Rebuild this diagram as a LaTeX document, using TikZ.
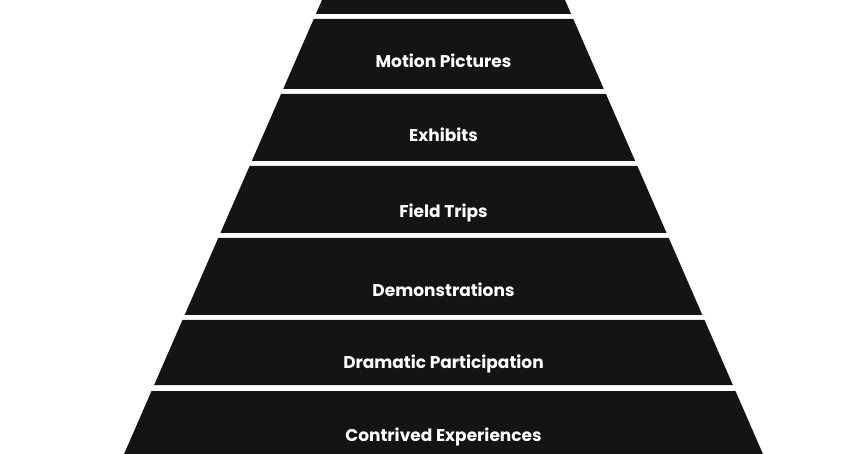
\documentclass[tikz,border=0pt]{standalone}
\usepackage{fontspec}
\setmainfont{Poppins}
\usepackage{xcolor}
\usepackage{tikz}
\usetikzlibrary{positioning}

\definecolor{bandblack}{HTML}{141414}
% edges of the pyramid: left x = 322 - 0.436 y, right x = 565 + 0.436 y
\newcommand{\band}[2]{%
  \fill[bandblack] ({322-0.436*#1},#1) -- ({565+0.436*#1},#1)
    -- ({565+0.436*#2},#2) -- ({322-0.436*#2},#2) -- cycle;}

\tikzset{
  label/.style={text=white, anchor=base, inner sep=0pt,
    font=\fontsize{17}{20}\selectfont\bfseries}
}

\begin{document}
\begin{tikzpicture}[x=1pt,y=-1pt]
  \useasboundingbox (0,0) rectangle (865,454);
  \band{0}{14}
  \band{19}{89}
  \band{94}{161}
  \band{166}{233}
  \band{238}{315}
  \band{320}{385}
  \band{391}{454}
  \node[label] (motion) at (443.5,68) {Motion Pictures};
  \node[label] (exhibits) at (443.5,142) {Exhibits};
  \node[label] (field) at (443.5,218) {Field Trips};
  \node[label] (demo) at (443.5,297) {Demonstrations};
  \node[label] (drama) at (443.5,368) {Dramatic Participation};
  \node[label] (contrived) at (443.5,441) {Contrived Experiences};
\end{tikzpicture}
\end{document}
